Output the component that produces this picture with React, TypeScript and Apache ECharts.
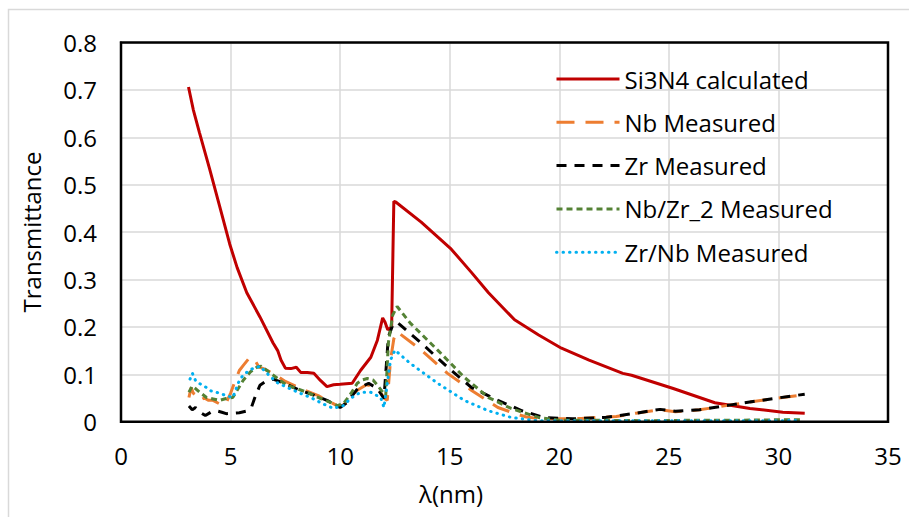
import React, { useEffect, useRef } from "react";
import * as echarts from "echarts";

const seriesNames = ["Si3N4 calculated", "Nb Measured", "Zr Measured", "Nb/Zr_2 Measured", "Zr/Nb Measured"];

const si3n4X = [3.08, 3.3, 3.58, 4.04, 4.5, 4.96, 5.3, 5.74, 6.34, 6.94, 7.15, 7.3, 7.5, 7.75, 8.0, 8.2, 8.5, 8.8, 9.1, 9.4, 9.7, 10.0, 10.55, 10.93, 11.4, 11.7, 11.94, 12.05, 12.17, 12.35, 12.45, 12.55, 13.7, 15.07, 15.99, 16.77, 17.96, 19.06, 20.1, 21.36, 22.9, 23.3, 25.2, 27.1, 28.7, 30.2, 31.2];
const si3n4Y = [0.706, 0.658, 0.61, 0.534, 0.455, 0.375, 0.325, 0.272, 0.221, 0.166, 0.15, 0.13, 0.113, 0.112, 0.115, 0.104, 0.104, 0.102, 0.087, 0.074, 0.078, 0.079, 0.081, 0.108, 0.136, 0.172, 0.219, 0.21, 0.194, 0.2, 0.465, 0.463, 0.421, 0.364, 0.315, 0.272, 0.215, 0.183, 0.155, 0.13, 0.102, 0.098, 0.07, 0.04, 0.028, 0.02, 0.018];

const nbX = [3.1, 3.2, 3.3, 3.45, 3.6, 3.8, 4.0, 4.2, 4.4, 4.65, 4.8, 5.0, 5.2, 5.4, 5.6, 5.88, 6.0, 6.1, 6.3, 6.5, 7.0, 7.5, 8.2, 9.0, 9.4, 9.9, 10.15, 10.5, 10.8, 11.2, 11.5, 11.8, 12.0, 12.15, 12.3, 12.45, 12.6, 13.7, 14.9, 16.0, 17.2, 18.0, 18.5, 19.0, 20.0, 21.0, 22.6, 23.5, 24.6, 25.3, 26.4, 27.9, 29.5, 31.2];
const nbY = [0.051, 0.072, 0.06, 0.055, 0.045, 0.05, 0.045, 0.045, 0.04, 0.034, 0.04, 0.06, 0.085, 0.108, 0.12, 0.136, 0.132, 0.13, 0.115, 0.112, 0.1, 0.085, 0.07, 0.055, 0.045, 0.033, 0.035, 0.055, 0.067, 0.078, 0.075, 0.065, 0.05, 0.045, 0.13, 0.175, 0.19, 0.151, 0.102, 0.066, 0.03, 0.017, 0.01, 0.007, 0.006, 0.007, 0.011, 0.018, 0.025, 0.021, 0.025, 0.036, 0.047, 0.057];

const zrX = [3.1, 3.25, 3.4, 3.6, 3.85, 4.1, 4.35, 4.6, 4.8, 5.1, 5.4, 5.7, 5.95, 6.1, 6.34, 6.6, 6.94, 7.5, 8.18, 8.8, 9.4, 10.0, 10.3, 10.8, 11.3, 11.7, 12.0, 12.2, 12.4, 12.6, 13.7, 14.9, 16.0, 17.2, 18.3, 19.3, 20.6, 22.1, 23.5, 24.6, 25.3, 26.4, 27.9, 29.5, 31.2];
const zrY = [0.033, 0.025, 0.03, 0.02, 0.013, 0.02, 0.023, 0.02, 0.017, 0.018, 0.019, 0.022, 0.03, 0.05, 0.077, 0.085, 0.09, 0.08, 0.066, 0.056, 0.045, 0.03, 0.04, 0.07, 0.081, 0.07, 0.049, 0.179, 0.204, 0.21, 0.166, 0.115, 0.072, 0.045, 0.023, 0.009, 0.006, 0.009, 0.018, 0.026, 0.022, 0.025, 0.036, 0.047, 0.058];

const nbzrX = [3.1, 3.25, 3.4, 3.6, 3.9, 4.2, 4.5, 4.8, 5.1, 5.35, 5.57, 5.9, 6.2, 6.4, 6.6, 6.95, 7.56, 8.0, 8.5, 9.1, 9.5, 9.86, 10.15, 10.5, 10.78, 11.0, 11.24, 11.5, 11.7, 11.9, 12.08, 12.2, 12.4, 12.6, 13.2, 14.45, 15.66, 16.77, 17.8, 19.05, 20.0, 22.0, 24.0, 26.0, 28.0, 30.0, 31.0];
const nbzrY = [0.062, 0.075, 0.07, 0.062, 0.051, 0.048, 0.045, 0.049, 0.051, 0.07, 0.087, 0.105, 0.115, 0.117, 0.11, 0.098, 0.077, 0.07, 0.062, 0.049, 0.042, 0.034, 0.038, 0.06, 0.081, 0.088, 0.091, 0.088, 0.077, 0.065, 0.055, 0.166, 0.225, 0.243, 0.208, 0.151, 0.094, 0.051, 0.028, 0.009, 0.003, 0.003, 0.002, 0.003, 0.003, 0.004, 0.004];

const zrnbX = [3.15, 3.26, 3.4, 3.6, 3.9, 4.1, 4.35, 4.5, 4.8, 5.1, 5.4, 5.57, 5.9, 6.34, 6.6, 7.1, 7.6, 8.18, 8.7, 9.2, 9.7, 10.15, 10.5, 10.93, 11.4, 11.85, 12.0, 12.17, 12.3, 12.5, 13.2, 14.45, 15.66, 16.77, 17.8, 19.0, 20.0, 22.0, 24.0, 26.0, 28.0, 30.0, 31.0];
const zrnbY = [0.09, 0.102, 0.087, 0.08, 0.072, 0.065, 0.062, 0.06, 0.055, 0.051, 0.087, 0.098, 0.11, 0.117, 0.105, 0.083, 0.072, 0.06, 0.05, 0.038, 0.028, 0.034, 0.05, 0.062, 0.062, 0.051, 0.03, 0.087, 0.13, 0.151, 0.123, 0.081, 0.045, 0.023, 0.009, 0.002, 0.002, 0.002, 0.002, 0.002, 0.002, 0.002, 0.003];

const xTicks = { min: 0, max: 35, interval: 5 };
const yTicks = { min: 0, max: 0.8, interval: 0.1 };

const FONT = "'Open Sans', sans-serif";
const W = 909;
const H = 517;
const GRID = { left: 121, right: 21, top: 42.5, bottom: 95.3 };

function pairs(xs: number[], ys: number[]) {
  return xs.map((x, i) => [x, ys[i]]);
}

export default function App() {
  const ref = useRef<HTMLDivElement>(null);
  useEffect(() => {
    if (!ref.current) return;
    const chart = echarts.init(ref.current, undefined, { renderer: "svg" });
    const mk = (name: string, xs: number[], ys: number[], color: string, type: any, cap: any) => ({
      name,
      type: "line",
      data: pairs(xs, ys),
      showSymbol: false,
      symbol: "none",
      lineStyle: { color, width: 3, type, cap },
      itemStyle: { color },
      z: 4,
    });
    const frameLine = { show: true, onZero: false, lineStyle: { color: "#000000", width: 2 } };
    chart.setOption({
      animation: false,
      backgroundColor: "#fff",
      textStyle: { fontFamily: FONT },
      grid: { ...GRID, containLabel: false },
      xAxis: {
        type: "value",
        min: xTicks.min,
        max: xTicks.max,
        interval: xTicks.interval,
        axisLine: frameLine,
        axisTick: { show: false },
        axisLabel: { color: "#000", fontSize: 24, fontFamily: FONT, margin: 22 },
        splitLine: { show: true, lineStyle: { color: "#d9d9d9", width: 1.5 } },
      },
      yAxis: {
        type: "value",
        min: yTicks.min,
        max: yTicks.max,
        interval: yTicks.interval,
        axisLine: frameLine,
        axisTick: { show: false },
        axisLabel: { color: "#000", fontSize: 24, fontFamily: FONT, margin: 24 },
        splitLine: { show: true, lineStyle: { color: "#d9d9d9", width: 1.5 } },
      },
      legend: {
        orient: "vertical",
        left: 550,
        top: 62,
        itemWidth: 63,
        itemHeight: 14,
        itemGap: 19.3,
        itemStyle: { opacity: 0 },
        lineStyle: { width: 3 },
        textStyle: { color: "#000", fontSize: 24, fontFamily: FONT, lineHeight: 24 },
        data: seriesNames,
      },
      graphic: {
        elements: [
          {
            type: "rect",
            id: "outer",
            silent: true,
            shape: { x: 8.5, y: 9.5, width: 920, height: 530 },
            style: { fill: "none", stroke: "#d9d9d9", lineWidth: 1.5 },
          },
          {
            type: "rect",
            id: "frame",
            silent: true,
            z: 10,
            shape: { x: GRID.left, y: GRID.top, width: W - GRID.left - GRID.right, height: H - GRID.top - GRID.bottom },
            style: { fill: "none", stroke: "#000000", lineWidth: 2.5 },
          },
          {
            type: "text",
            id: "ytitle",
            x: 31,
            y: 232,
            rotation: Math.PI / 2,
            style: { text: "Transmittance", fontSize: 24, fontFamily: FONT, fill: "#000", textAlign: "center", textVerticalAlign: "middle" },
          },
          {
            type: "text",
            id: "xtitle",
            x: 451,
            y: 493,
            style: { text: "λ(nm)", fontSize: 24, fontFamily: FONT, fill: "#000", textAlign: "center", textVerticalAlign: "middle" },
          },
        ],
      },
      series: [
        mk(seriesNames[0], si3n4X, si3n4Y, "#C00000", "solid", "butt"),
        mk(seriesNames[1], nbX, nbY, "#ED7D31", [18, 11], "butt"),
        mk(seriesNames[2], zrX, zrY, "#000000", [10, 8], "butt"),
        mk(seriesNames[3], nbzrX, nbzrY, "#548235", [6, 4], "butt"),
        mk(seriesNames[4], zrnbX, zrnbY, "#00B0F0", [0.5, 6], "round"),
      ],
    });
    return () => chart.dispose();
  }, []);
  return <div ref={ref} style={{ position: "absolute", left: 0, top: 0, width: W, height: H }} />;
}
